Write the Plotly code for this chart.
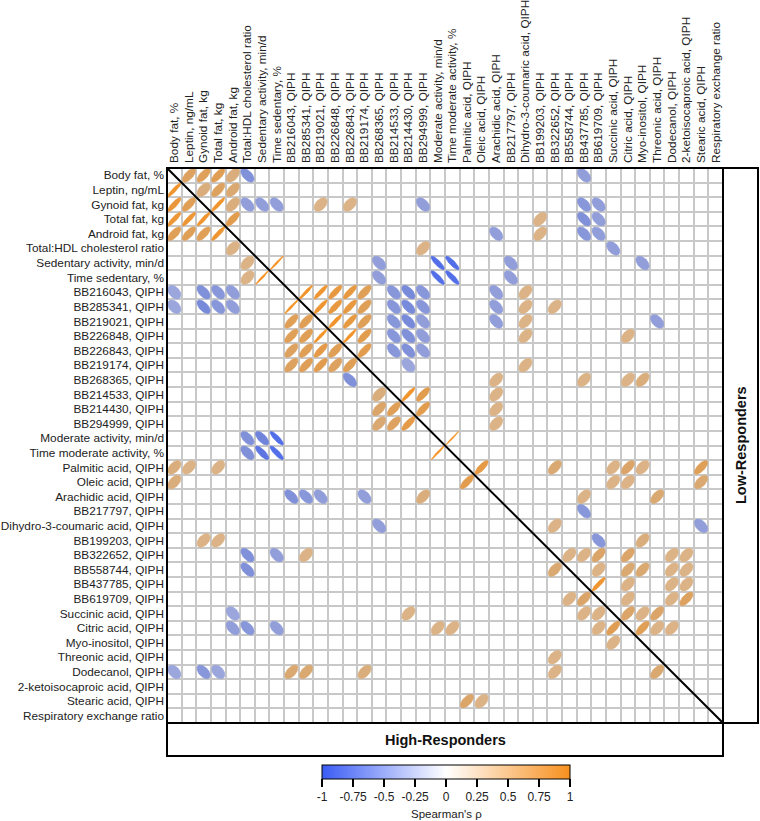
import numpy as np
import plotly.graph_objects as go

variables = [
    "Body fat, %", "Leptin, ng/mL", "Gynoid fat, kg", "Total fat, kg", "Android fat, kg",
    "Total:HDL cholesterol ratio", "Sedentary activity, min/d", "Time sedentary, %",
    "BB216043, QIPH", "BB285341, QIPH", "BB219021, QIPH", "BB226848, QIPH", "BB226843, QIPH",
    "BB219174, QIPH", "BB268365, QIPH", "BB214533, QIPH", "BB214430, QIPH", "BB294999, QIPH",
    "Moderate activity, min/d", "Time moderate activity, %", "Palmitic acid, QIPH",
    "Oleic acid, QIPH", "Arachidic acid, QIPH", "BB217797, QIPH",
    "Dihydro-3-coumaric acid, QIPH", "BB199203, QIPH", "BB322652, QIPH", "BB558744, QIPH",
    "BB437785, QIPH", "BB619709, QIPH", "Succinic acid, QIPH", "Citric acid, QIPH",
    "Myo-inositol, QIPH", "Threonic acid, QIPH", "Dodecanol, QIPH",
    "2-ketoisocaproic acid, QIPH", "Stearic acid, QIPH", "Respiratory exchange ratio",
]

# Low-responders (upper triangle): (row index, column index, Spearman rho)
low_responders = [
    (0, 1, 0.65), (0, 2, 0.68), (0, 3, 0.72), (0, 4, 0.5), (0, 5, -0.55), (0, 28, -0.45),
    (1, 2, 0.5), (1, 3, 0.65), (1, 4, 0.55),
    (2, 3, 0.92), (2, 4, 0.5), (2, 5, -0.45), (2, 6, -0.45), (2, 7, -0.45), (2, 10, 0.45),
    (2, 12, 0.45), (2, 17, -0.45), (2, 28, -0.5), (2, 29, -0.45),
    (3, 4, 0.75), (3, 25, 0.45), (3, 28, -0.55), (3, 29, -0.45),
    (4, 22, -0.45), (4, 25, 0.45), (4, 28, -0.5), (4, 29, -0.45),
    (5, 17, 0.45), (5, 30, -0.45),
    (6, 7, 0.98), (6, 14, -0.45), (6, 18, -0.85), (6, 19, -0.85), (6, 23, -0.45), (6, 32, -0.45),
    (7, 14, -0.45), (7, 18, -0.85), (7, 19, -0.85), (7, 23, -0.45),
    (8, 9, 0.95), (8, 10, 0.9), (8, 11, 0.82), (8, 12, 0.82), (8, 13, 0.7), (8, 15, -0.5),
    (8, 16, -0.6), (8, 17, -0.5), (8, 22, -0.45), (8, 24, 0.45),
    (9, 10, 0.9), (9, 11, 0.82), (9, 12, 0.82), (9, 13, 0.7), (9, 15, -0.5), (9, 16, -0.6),
    (9, 17, -0.5), (9, 22, -0.45), (9, 24, 0.45), (9, 26, 0.45),
    (10, 11, 0.92), (10, 12, 0.82), (10, 13, 0.7), (10, 15, -0.5), (10, 16, -0.6),
    (10, 17, -0.45), (10, 22, -0.45), (10, 24, 0.45), (10, 33, -0.45),
    (11, 12, 0.95), (11, 13, 0.75), (11, 15, -0.5), (11, 16, -0.55), (11, 17, -0.45),
    (11, 24, 0.45), (11, 31, 0.45),
    (12, 13, 0.75), (12, 15, -0.5), (12, 16, -0.55), (12, 17, -0.45),
    (13, 16, -0.4), (13, 24, 0.45),
    (14, 22, 0.45), (14, 28, 0.45), (14, 31, 0.45), (14, 32, 0.5),
    (15, 16, 0.92), (15, 17, 0.75), (15, 22, 0.45),
    (16, 17, 0.75), (16, 22, 0.45),
    (17, 22, 0.45),
    (18, 19, 0.99),
    (20, 21, 0.8), (20, 26, 0.55), (20, 30, 0.45), (20, 31, 0.6), (20, 32, 0.45), (20, 36, 0.7),
    (21, 30, 0.45), (21, 31, 0.45), (21, 36, 0.55),
    (22, 28, 0.45), (22, 33, 0.55),
    (23, 28, -0.5),
    (24, 26, 0.45), (24, 36, -0.45),
    (25, 29, -0.5), (25, 32, 0.5),
    (26, 27, 0.45), (26, 28, 0.45), (26, 29, 0.6), (26, 31, 0.6), (26, 34, 0.45), (26, 35, 0.45),
    (27, 29, 0.45), (27, 31, 0.55), (27, 32, 0.55), (27, 34, 0.45), (27, 35, 0.45),
    (28, 29, 0.9), (28, 31, 0.45), (28, 34, 0.45), (28, 35, 0.45),
    (29, 31, 0.45), (29, 34, 0.45), (29, 35, 0.65),
    (30, 31, 0.6), (30, 32, 0.45), (30, 33, 0.6),
    (31, 32, 0.7), (31, 33, 0.45), (31, 34, 0.45),
]

# High-responders (lower triangle): (row index, column index, Spearman rho)
high_responders = [
    (1, 0, 0.92),
    (2, 0, 0.85), (2, 1, 0.7),
    (3, 0, 0.88), (3, 1, 0.88), (3, 2, 0.92),
    (4, 0, 0.7), (4, 1, 0.7), (4, 2, 0.7), (4, 3, 0.9),
    (5, 4, 0.45),
    (6, 5, 0.45),
    (7, 5, 0.45), (7, 6, 0.98),
    (8, 0, -0.4), (8, 2, -0.55), (8, 3, -0.5), (8, 4, -0.45),
    (9, 0, -0.4), (9, 2, -0.6), (9, 3, -0.5), (9, 4, -0.45), (9, 8, 0.97),
    (10, 8, 0.7), (10, 9, 0.7),
    (11, 8, 0.7), (11, 9, 0.7), (11, 10, 0.95),
    (12, 8, 0.65), (12, 9, 0.7), (12, 10, 0.78), (12, 11, 0.7),
    (13, 8, 0.65), (13, 9, 0.7), (13, 10, 0.75), (13, 11, 0.65), (13, 12, 0.7),
    (14, 12, -0.55),
    (15, 14, 0.5),
    (16, 14, 0.6), (16, 15, 0.7),
    (17, 14, 0.55), (17, 15, 0.65), (17, 16, 0.78),
    (18, 5, -0.55), (18, 6, -0.65), (18, 7, -0.85),
    (19, 5, -0.55), (19, 6, -0.78), (19, 7, -0.85), (19, 18, 0.98),
    (20, 0, 0.5), (20, 1, 0.45), (20, 3, 0.45),
    (21, 0, 0.5), (21, 20, 0.75),
    (22, 8, -0.55), (22, 9, -0.5), (22, 10, -0.45), (22, 13, -0.45), (22, 17, 0.5),
    (24, 14, -0.45),
    (25, 2, 0.45), (25, 3, 0.45),
    (26, 5, -0.55), (26, 7, -0.45), (26, 9, 0.45),
    (27, 5, -0.55), (27, 26, 0.55),
    (29, 27, 0.45), (29, 28, 0.6),
    (30, 4, -0.4), (30, 16, 0.45), (30, 28, 0.45), (30, 29, 0.45),
    (31, 4, -0.45), (31, 5, -0.5), (31, 7, -0.45), (31, 18, 0.45), (31, 19, 0.45),
    (31, 29, 0.45), (31, 30, 0.72),
    (32, 30, 0.45),
    (33, 26, 0.45),
    (34, 0, -0.4), (34, 2, -0.5), (34, 3, -0.4), (34, 8, 0.55), (34, 9, 0.55),
    (34, 13, 0.5), (34, 26, 0.45), (34, 33, 0.55),
    (36, 20, 0.6), (36, 21, 0.45),
]

cbar_ticks = [-1, -0.75, -0.5, -0.25, 0, 0.25, 0.5, 0.75, 1]
cbar_title = "Spearman's ρ"

NEG = np.array([58, 92, 245])
MID = np.array([255, 255, 255])
POS = np.array([247, 144, 30])
colorscale = [[0, "rgb(58,92,245)"], [0.5, "rgb(255,255,255)"], [1, "rgb(247,144,30)"]]


def rho_color(r):
    a = abs(r)
    end = POS if r >= 0 else NEG
    shade = 1 - 0.13 * np.sin(np.pi * a)
    c = (MID * (1 - a) + end * a) * shade
    return "rgb(%d,%d,%d)" % tuple(np.clip(c, 0, 255).round().astype(int))


FONT = "Arial, Liberation Sans, sans-serif"
n = len(variables)
fig = go.Figure()

t = np.linspace(0, 2 * np.pi, 73)
RX, RY = 0.455, 0.47
for group in (low_responders, high_responders):
    for (i, j, r) in group:
        d = np.arccos(np.clip(r, -1, 1))
        ex = j + RX * np.cos(t + d / 2)
        ey = i - RY * np.cos(t - d / 2)
        col = rho_color(r)
        fig.add_trace(go.Scatter(
            x=ex, y=ey, mode="lines", fill="toself", fillcolor=col,
            line=dict(color=col, width=0.6), hoverinfo="skip", showlegend=False))

W, H = 760, 821
ml, mr, mt, mb = 167, 37, 168, 98
pw, ph = W - ml - mr, H - mt - mb
right_w = 35 / pw
bottom_h = 33 / ph

# invisible trace carrying the colour bar
fig.add_trace(go.Scatter(
    x=[None], y=[None], mode="markers", showlegend=False, hoverinfo="skip",
    marker=dict(color=[-1, 1], cmin=-1, cmax=1, colorscale=colorscale, showscale=True, size=0,
                colorbar=dict(
                    orientation="h", x=0.502, xanchor="center", y=-42 / ph, yanchor="top",
                    len=248, lenmode="pixels", thickness=14, xpad=0, ypad=0,
                    outlinecolor="black", outlinewidth=1,
                    ticks="outside", ticklen=8, tickwidth=1.5, tickcolor="black",
                    tickvals=cbar_ticks, ticktext=[f"{v:g}" for v in cbar_ticks],
                    tickfont=dict(family=FONT, size=12, color="#222")))))

boundaries = [k - 0.5 for k in range(n + 1)]
axis_common = dict(
    tickmode="array", tickvals=list(range(n)), ticktext=variables,
    showgrid=False, zeroline=False, showline=False, ticks="", automargin=False,
    tickfont=dict(family=FONT, size=11.8, color="#222"),
    minor=dict(tickvals=boundaries, showgrid=True, gridcolor="#c8c8c8", gridwidth=1.5, ticks=""),
    fixedrange=True,
)
fig.update_xaxes(range=[-0.5, n - 0.5], side="top", tickangle=-90, ticklabelstandoff=4, **axis_common)
fig.update_yaxes(range=[n - 0.5, -0.5], ticklabelstandoff=2, **axis_common)

shapes = [
    dict(type="line", xref="x", yref="y", x0=-0.5, y0=-0.5, x1=n - 0.5, y1=n - 0.5,
         line=dict(color="black", width=2), layer="above"),
    dict(type="rect", xref="paper", yref="paper", x0=0, x1=1, y0=0, y1=1,
         line=dict(color="black", width=2), layer="above"),
    dict(type="rect", xref="paper", yref="paper", x0=1, x1=1 + right_w, y0=0, y1=1,
         line=dict(color="black", width=2), layer="above"),
    dict(type="rect", xref="paper", yref="paper", x0=0, x1=1, y0=-bottom_h, y1=0,
         line=dict(color="black", width=2), layer="above"),
]

annotations = [
    dict(text="<b>High-Responders</b>", xref="paper", yref="paper", x=0.5, y=-bottom_h / 2,
         xanchor="center", yanchor="middle", showarrow=False,
         font=dict(family=FONT, size=14.5, color="#111")),
    dict(text="<b>Low-Responders</b>", xref="paper", yref="paper", x=1 + right_w / 2, y=0.5,
         xanchor="center", yanchor="middle", textangle=-90, showarrow=False,
         font=dict(family=FONT, size=14.5, color="#111")),
    dict(text=cbar_title, xref="paper", yref="paper", x=0.502, y=-(814 - (mt + ph)) / ph,
         xanchor="center", yanchor="middle", showarrow=False,
         font=dict(family=FONT, size=11.5, color="#222")),
]

fig.update_layout(
    width=W, height=H, margin=dict(l=ml, r=mr, t=mt, b=mb, pad=0, autoexpand=False),
    plot_bgcolor="white", paper_bgcolor="white",
    shapes=shapes, annotations=annotations, showlegend=False,
)

fig.write_html("out.html", config={"displayModeBar": False},
               post_script="document.body.style.margin='0px';document.body.style.padding='0px';")
